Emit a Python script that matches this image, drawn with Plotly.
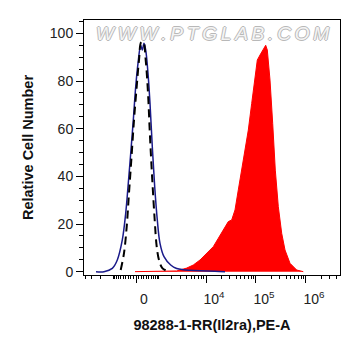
import numpy as np
import plotly.graph_objects as go

# Biexponential-like display scale (asinh), in decades; 0 maps to 0
COF = 797.0
def biex(v):
    return np.arcsinh(np.asarray(v, dtype=float) / COF) / np.log(10)

# Data, x in display-scale units (decades from 0)
ctrl_x = [-0.80, -0.64, -0.474, -0.374, -0.274, -0.206, -0.16, -0.106, -0.054, -0.006, 0.04,
          0.094, 0.126, 0.16, 0.194, 0.24, 0.28, 0.326, 0.374, 0.426, 0.48, 0.56, 0.694,
          0.814, 0.95, 1.08, 1.28, 1.58, 1.78]
ctrl_y = [0.0, 0.0, 1.4, 4.9, 13.3, 24.5, 35.6, 49.6, 63.6, 77.6, 87.4,
          95.0, 93.0, 95.8, 93.0, 83.2, 70.6, 52.4, 35.6, 21.7, 11.9, 6.3, 2.8,
          1.3, 0.8, 0.6, 0.4, 0.2, 0.0]

iso_x = [-0.306, -0.24, -0.186, -0.14, -0.094, -0.04, 0.014, 0.06, 0.106, 0.146,
         0.194, 0.24, 0.28, 0.326, 0.374, 0.414, 0.46, 0.526, 0.626]
iso_y = [0.7, 7.8, 18.9, 33.0, 46.8, 63.6, 77.6, 88.8, 96.4, 96.4,
         88.8, 75.0, 56.6, 38.4, 21.7, 10.5, 4.9, 1.5, 0.3]

pos_x = [-0.02, 0.5, 0.814, 1.014, 1.146, 1.28, 1.414, 1.546, 1.646, 1.746, 1.846, 1.914,
         1.98, 2.046, 2.114, 2.18, 2.246, 2.314, 2.38, 2.426, 2.48, 2.546, 2.594,
         2.626, 2.68, 2.734, 2.786, 2.846, 2.914, 2.98, 3.08, 3.214, 3.346]
pos_y = [0.0, 0.1, 0.3, 1.5, 2.8, 4.9, 7.7, 10.5, 14.0, 17.5, 21.0, 21.7,
         25.9, 34.3, 42.6, 51.0, 59.4, 70.6, 80.4, 88.8, 90.9, 93.0, 95.0,
         93.0, 80.4, 62.2, 42.6, 27.3, 16.1, 9.1, 3.5, 0.7, 0.0]

major_vals = [0, 1e4, 1e5, 1e6]
sup = "<sup style=\"font-size:13px\">{}</sup>"
major_text = ["0", "10" + sup.format(4), "10" + sup.format(5), "10" + sup.format(6)]
minor_vals = ([-k * 1000 for k in range(1, 5)] + [-k * 100 for k in range(1, 10)] +
              [k * 100 for k in range(1, 10)] + [k * 1000 for k in range(1, 10)] +
              [k * 1e4 for k in range(2, 10)] + [k * 1e5 for k in range(2, 10)] +
              [k * 1e6 for k in range(2, 5)])

fig = go.Figure()
fig.add_trace(go.Scatter(x=pos_x, y=pos_y, mode="lines", fill="tozeroy",
                         line=dict(color="#ff0000", width=1), fillcolor="#ff0000",
                         showlegend=False))
fig.add_trace(go.Scatter(x=ctrl_x, y=ctrl_y, mode="lines", line_shape="spline",
                         line=dict(color="#1a1a8a", width=1.5), showlegend=False))
fig.add_trace(go.Scatter(x=iso_x, y=iso_y, mode="lines", line_shape="spline",
                         line=dict(color="#000000", width=2, dash="8px,5px"),
                         showlegend=False))

wm = "\u2009".join("WWW.PTGLAB.COM")
fig.add_annotation(text=wm, xref="paper", yref="paper", x=0.5, y=1.0, yshift=-1,
                   xanchor="center", yanchor="top", showarrow=False,
                   font=dict(family="Arial", size=19, color="#f4f4f4", style="italic",
                             shadow="1px 0 #b8b8b8, -1px 0 #b8b8b8, 0 1px #b8b8b8, 0 -1px #b8b8b8"))

# Page body has an 8px default margin, so the figure is sized to fit the window
fig.update_layout(
    width=345, height=340, autosize=False,
    margin=dict(l=76, r=13, t=12, b=73),
    paper_bgcolor="white", plot_bgcolor="white",
    font=dict(family="Arial", size=14, color="#222222"),
    xaxis=dict(range=[-1.04, 4.08], showgrid=False, zeroline=False,
               showline=True, linecolor="black", linewidth=1, mirror=True,
               tickmode="array", tickvals=list(biex(major_vals)), ticktext=major_text,
               ticks="outside", ticklen=7, tickcolor="black",
               tickfont=dict(size=14), ticklabelshift=8, ticklabelstandoff=4,
               minor=dict(tickmode="array", tickvals=list(biex(minor_vals)),
                          ticks="outside", ticklen=3, tickcolor="black", showgrid=False),
               title=dict(text="<b>98288-1-RR(Il2ra),PE-A</b>", standoff=14,
                          font=dict(size=14.5, color="#111111"))),
    yaxis=dict(range=[-1.4, 105.6], showgrid=False, zeroline=False,
               showline=True, linecolor="black", linewidth=1, mirror=True,
               tickmode="array", tickvals=[0, 20, 40, 60, 80, 100],
               ticks="outside", ticklen=7, tickcolor="black",
               tickfont=dict(size=14),
               minor=dict(dtick=5, ticks="outside", ticklen=4, tickcolor="black", showgrid=False),
               title=dict(text="<b>Relative Cell Number</b>", standoff=12,
                          font=dict(size=14.5, color="#111111"))),
)

fig.write_html("out.html")
